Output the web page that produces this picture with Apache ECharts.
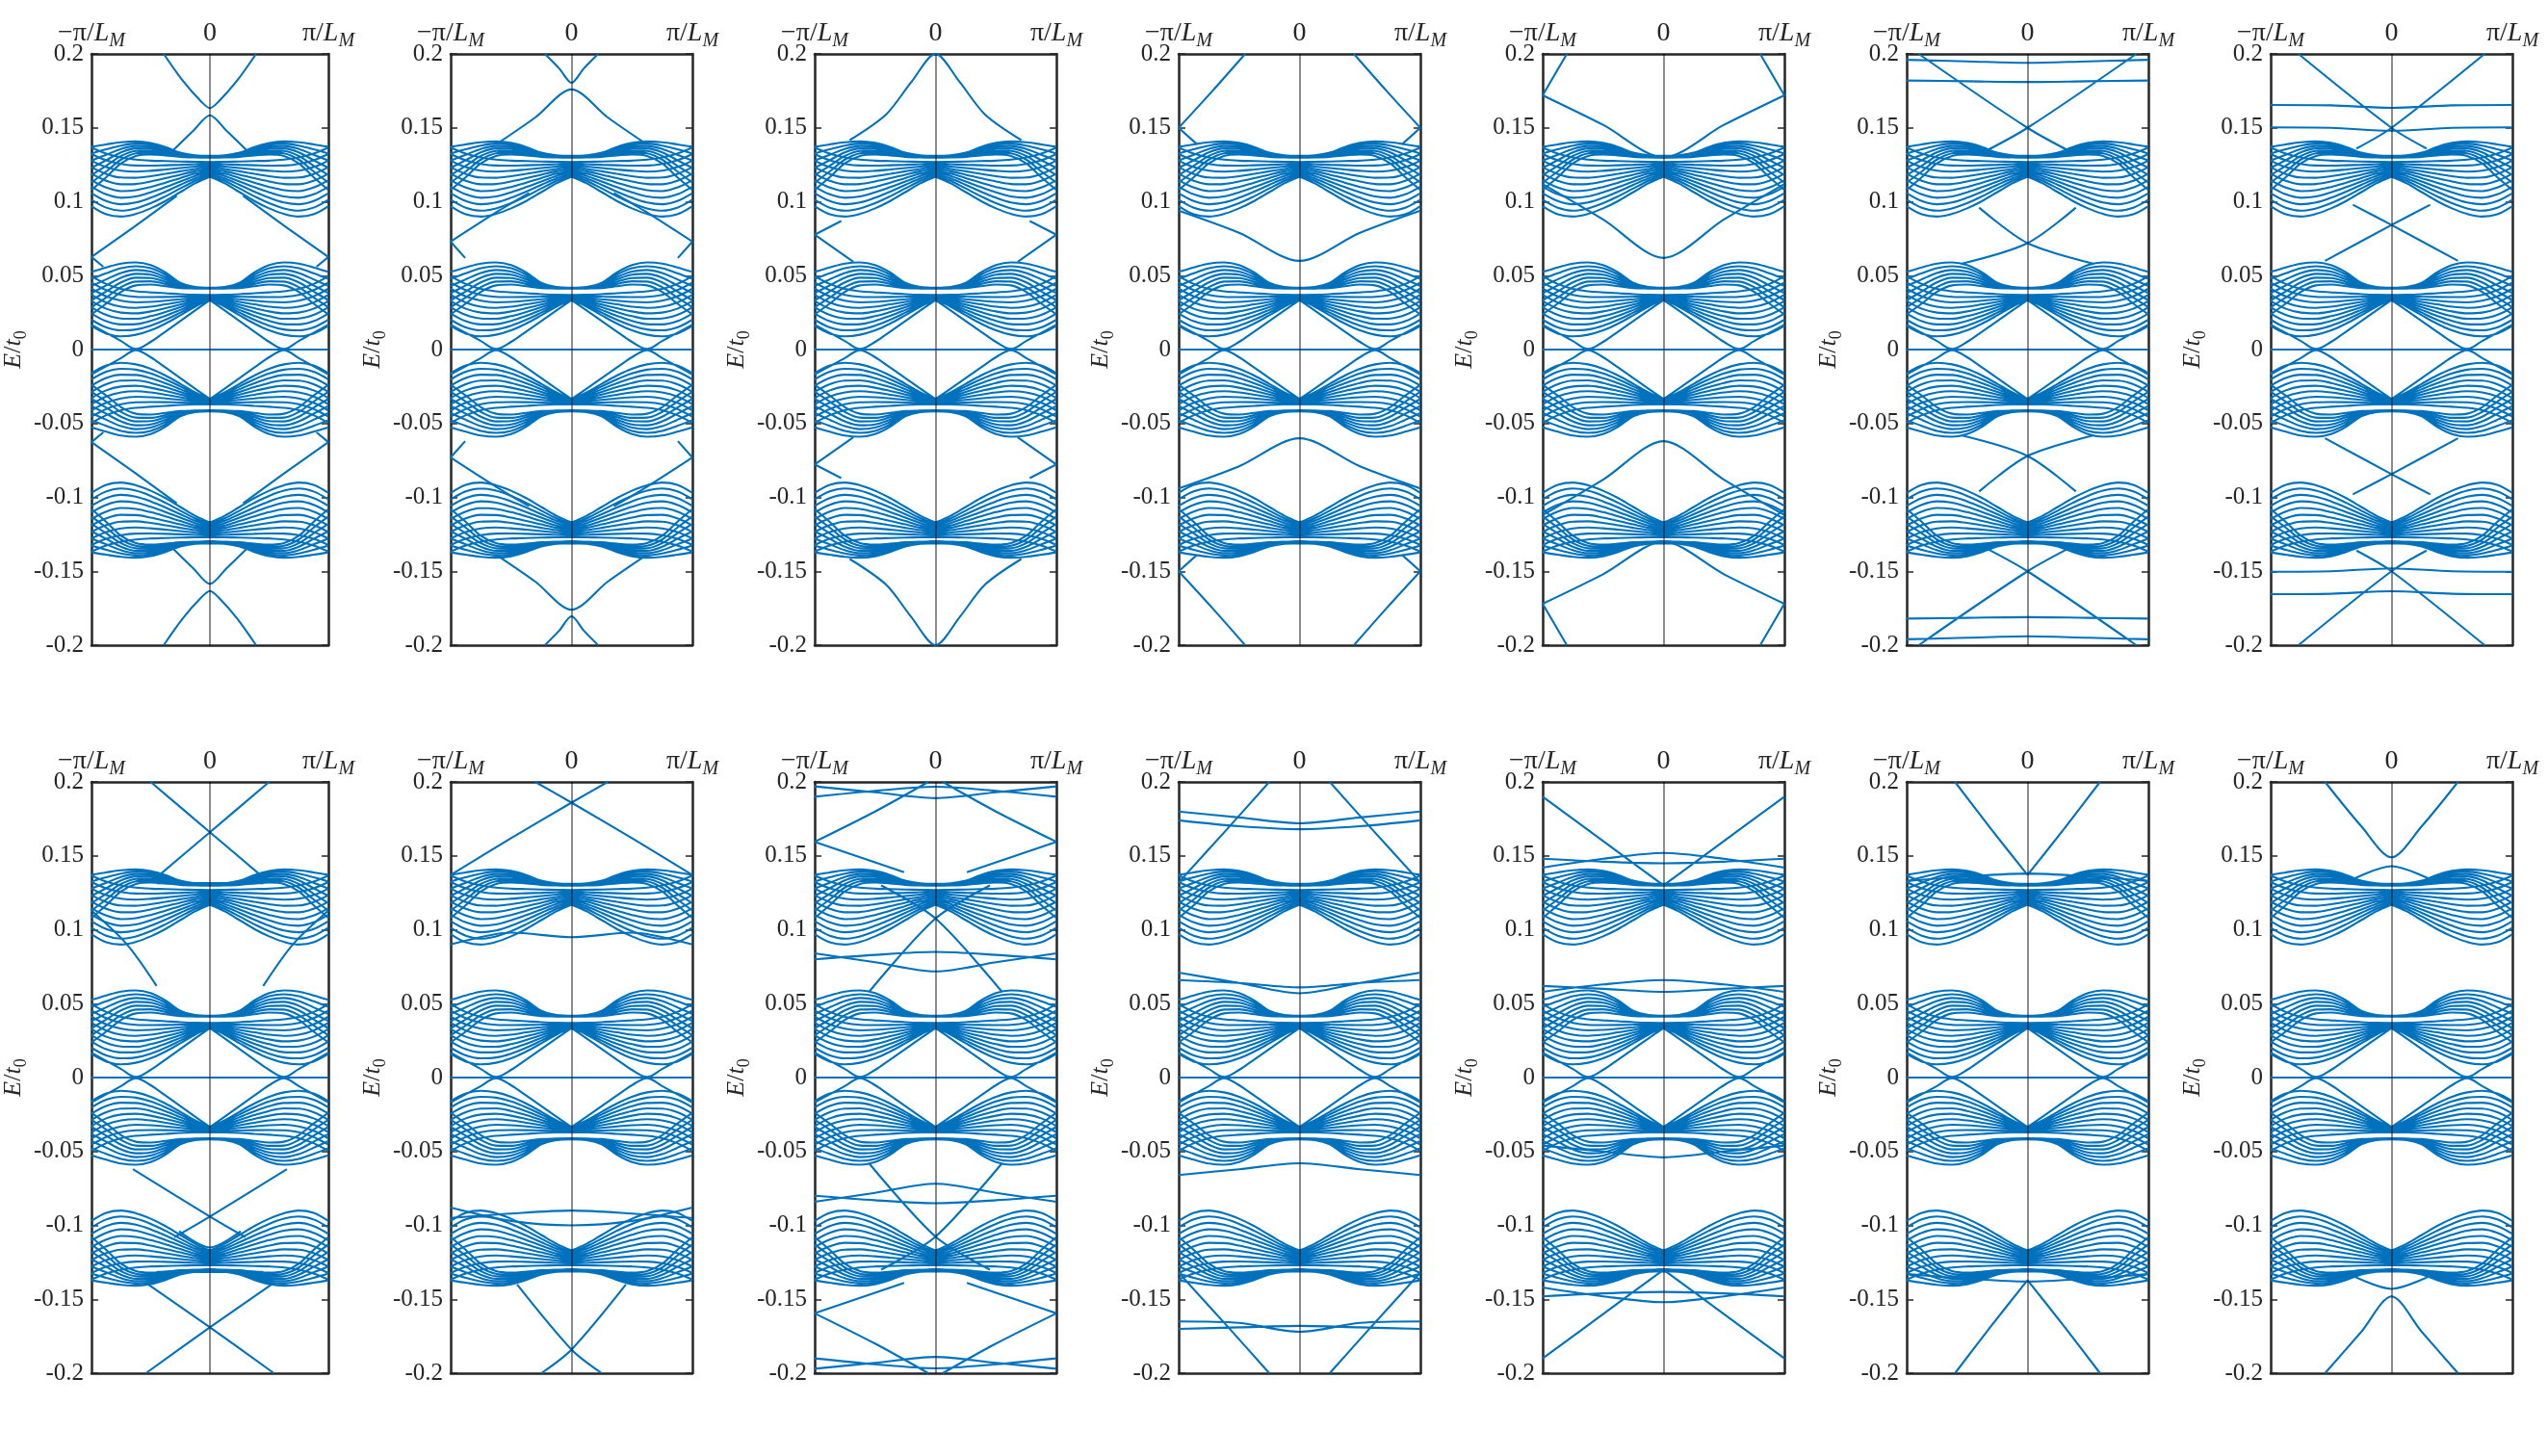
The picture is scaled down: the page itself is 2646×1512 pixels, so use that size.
<!DOCTYPE html>
<html>
<head>
<meta charset="utf-8">
<script src="https://cdn.jsdelivr.net/npm/echarts@6/dist/echarts.min.js"></script>
<style>
  html, body { margin: 0; padding: 0; background: #fff; }
  #main { width: 2646px; height: 1512px; }
</style>
</head>
<body>
<div id="main"></div>
<script>
// k in units of pi/L_M, half zone (each band is drawn on both halves)
const kHalf = [0, 0.125, 0.25, 0.375, 0.5, 0.625, 0.75, 0.875, 1];

// outer bulk cluster (E ~ 0.12): bands bending up out of the k=0 bundle
const outerUp = [
  [0.1310, 0.1314, 0.1332, 0.1370, 0.1398, 0.1408, 0.1402, 0.1388, 0.1372],
  [0.1308, 0.1311, 0.1326, 0.1360, 0.1386, 0.1393, 0.1380, 0.1355, 0.1326],
  [0.1306, 0.1309, 0.1321, 0.1350, 0.1373, 0.1377, 0.1357, 0.1318, 0.1278],
  [0.1304, 0.1307, 0.1316, 0.1340, 0.1360, 0.1361, 0.1334, 0.1281, 0.1230],
  [0.1302, 0.1304, 0.1312, 0.1331, 0.1346, 0.1344, 0.1310, 0.1243, 0.1180],
  [0.1300, 0.1302, 0.1308, 0.1322, 0.1333, 0.1327, 0.1285, 0.1205, 0.1130],
  [0.1298, 0.1300, 0.1304, 0.1313, 0.1320, 0.1310, 0.1260, 0.1166, 0.1080]
];
// outer cluster: bands fanning down out of the k=0 bundle
const outerDown = [
  [0.1170, 0.1125, 0.1065, 0.1005, 0.0955, 0.0918, 0.0900, 0.0915, 0.0970],
  [0.1181, 0.1142, 0.1090, 0.1037, 0.0990, 0.0955, 0.0940, 0.0960, 0.1014],
  [0.1192, 0.1158, 0.1114, 0.1068, 0.1027, 0.0995, 0.0983, 0.1005, 0.1058],
  [0.1203, 0.1174, 0.1137, 0.1099, 0.1064, 0.1036, 0.1027, 0.1050, 0.1102],
  [0.1214, 0.1190, 0.1160, 0.1129, 0.1100, 0.1078, 0.1072, 0.1096, 0.1146],
  [0.1225, 0.1206, 0.1183, 0.1159, 0.1137, 0.1120, 0.1118, 0.1142, 0.1190],
  [0.1236, 0.1222, 0.1206, 0.1189, 0.1173, 0.1162, 0.1164, 0.1188, 0.1234],
  [0.1247, 0.1238, 0.1228, 0.1218, 0.1209, 0.1204, 0.1210, 0.1234, 0.1278],
  [0.1258, 0.1254, 0.1250, 0.1247, 0.1244, 0.1245, 0.1256, 0.1280, 0.1322],
  [0.1269, 0.1270, 0.1272, 0.1275, 0.1278, 0.1285, 0.1300, 0.1325, 0.1366]
];
// inner bulk cluster (E ~ 0.04)
const innerUp = [
  [0.0418, 0.0423, 0.0452, 0.0522, 0.0572, 0.0590, 0.0582, 0.0556, 0.0526],
  [0.0417, 0.0421, 0.0445, 0.0506, 0.0550, 0.0564, 0.0550, 0.0516, 0.0478],
  [0.0416, 0.0419, 0.0439, 0.0490, 0.0528, 0.0538, 0.0518, 0.0475, 0.0430],
  [0.0415, 0.0417, 0.0433, 0.0474, 0.0506, 0.0512, 0.0486, 0.0434, 0.0382],
  [0.0414, 0.0416, 0.0427, 0.0458, 0.0484, 0.0486, 0.0454, 0.0393, 0.0334],
  [0.0413, 0.0414, 0.0421, 0.0443, 0.0462, 0.0460, 0.0422, 0.0352, 0.0286],
  [0.0412, 0.0413, 0.0416, 0.0428, 0.0440, 0.0434, 0.0390, 0.0311, 0.0238]
];
const innerDown = [
  [0.0335, 0.0264, 0.0193, 0.0122, 0.0052, 0.0004, 0.0058, 0.0113, 0.0168],
  [0.0338, 0.0290, 0.0232, 0.0176, 0.0130, 0.0100, 0.0090, 0.0108, 0.0160],
  [0.0342, 0.0300, 0.0250, 0.0202, 0.0162, 0.0136, 0.0130, 0.0150, 0.0202],
  [0.0346, 0.0310, 0.0268, 0.0228, 0.0194, 0.0172, 0.0170, 0.0192, 0.0244],
  [0.0350, 0.0320, 0.0286, 0.0254, 0.0226, 0.0208, 0.0210, 0.0234, 0.0286],
  [0.0354, 0.0330, 0.0304, 0.0280, 0.0258, 0.0245, 0.0250, 0.0276, 0.0328],
  [0.0358, 0.0340, 0.0322, 0.0306, 0.0290, 0.0282, 0.0290, 0.0318, 0.0370],
  [0.0362, 0.0350, 0.0340, 0.0331, 0.0322, 0.0319, 0.0330, 0.0360, 0.0412],
  [0.0366, 0.0361, 0.0358, 0.0356, 0.0355, 0.0357, 0.0370, 0.0402, 0.0454],
  [0.0370, 0.0371, 0.0375, 0.0381, 0.0387, 0.0394, 0.0410, 0.0444, 0.0496]
];
// zero-energy flat band
const flatBand = [[-1, 0], [1, 0]];

// in-gap / edge states per panel, [k, E] polylines
const edgeStates = [
  [ // panel 1
    [[-0.39, 0.2], [-0.23, 0.182], [-0.07, 0.1675], [0, 0.1634], [0.07, 0.1675], [0.23, 0.182], [0.39, 0.2]],
    [[-0.32, 0.134], [-0.14, 0.148], [0, 0.1585], [0.14, 0.148], [0.32, 0.134]],
    [[-1, 0.0626], [-0.64, 0.083], [-0.28, 0.104]],
    [[1, 0.0626], [0.64, 0.083], [0.28, 0.104]],
    [[-1, 0.0626], [-0.9, 0.056]],
    [[1, 0.0626], [0.9, 0.056]],
    [[-0.39, -0.2], [-0.23, -0.182], [-0.07, -0.1675], [0, -0.1634], [0.07, -0.1675], [0.23, -0.182], [0.39, -0.2]],
    [[-0.32, -0.134], [-0.14, -0.148], [0, -0.1585], [0.14, -0.148], [0.32, -0.134]],
    [[-1, -0.0626], [-0.64, -0.083], [-0.28, -0.104]],
    [[1, -0.0626], [0.64, -0.083], [0.28, -0.104]],
    [[-1, -0.0626], [-0.9, -0.056]],
    [[1, -0.0626], [0.9, -0.056]]
  ],
  [ // panel 2
    [[-0.22, 0.2], [-0.1, 0.19], [0, 0.1805], [0.1, 0.19], [0.22, 0.2]],
    [[-0.62, 0.139], [-0.3, 0.157], [0, 0.176], [0.3, 0.157], [0.62, 0.139]],
    [[-1, 0.073], [-0.6, 0.094], [-0.35, 0.106]],
    [[1, 0.073], [0.6, 0.094], [0.35, 0.106]],
    [[-1, 0.073], [-0.88, 0.062]],
    [[1, 0.073], [0.88, 0.062]],
    [[-0.22, -0.2], [-0.1, -0.19], [0, -0.1805], [0.1, -0.19], [0.22, -0.2]],
    [[-0.62, -0.139], [-0.3, -0.157], [0, -0.176], [0.3, -0.157], [0.62, -0.139]],
    [[-1, -0.073], [-0.6, -0.094], [-0.35, -0.106]],
    [[1, -0.073], [0.6, -0.094], [0.35, -0.106]],
    [[-1, -0.073], [-0.88, -0.062]],
    [[1, -0.073], [0.88, -0.062]]
  ],
  [ // panel 3
    [[-0.71, 0.1417], [-0.41, 0.159], [-0.2, 0.181], [0, 0.2], [0.2, 0.181], [0.41, 0.159], [0.71, 0.1417]],
    [[-1, 0.0777], [-0.78, 0.087]],
    [[-1, 0.0777], [-0.68, 0.0593]],
    [[1, 0.0777], [0.78, 0.087]],
    [[1, 0.0777], [0.68, 0.0593]],
    [[-0.71, -0.1417], [-0.41, -0.159], [-0.2, -0.181], [0, -0.2], [0.2, -0.181], [0.41, -0.159], [0.71, -0.1417]],
    [[-1, -0.0777], [-0.78, -0.087]],
    [[-1, -0.0777], [-0.68, -0.0593]],
    [[1, -0.0777], [0.78, -0.087]],
    [[1, -0.0777], [0.68, -0.0593]]
  ],
  [ // panel 4
    [[-1, 0.150], [-0.72, 0.175], [-0.45, 0.2]],
    [[1, 0.150], [0.72, 0.175], [0.45, 0.2]],
    [[-1, 0.150], [-0.85, 0.139]],
    [[1, 0.150], [0.85, 0.139]],
    [[-1, 0.094], [-0.5, 0.079], [0, 0.060], [0.5, 0.079], [1, 0.094]],
    [[-1, -0.150], [-0.72, -0.175], [-0.45, -0.2]],
    [[1, -0.150], [0.72, -0.175], [0.45, -0.2]],
    [[-1, -0.150], [-0.85, -0.139]],
    [[1, -0.150], [0.85, -0.139]],
    [[-1, -0.094], [-0.5, -0.079], [0, -0.060], [0.5, -0.079], [1, -0.094]]
  ],
  [ // panel 5
    [[-1, 0.172], [-0.5, 0.152], [0, 0.130], [0.5, 0.152], [1, 0.172]],
    [[-1, 0.172], [-0.8, 0.2]],
    [[1, 0.172], [0.8, 0.2]],
    [[-1, 0.112], [-0.5, 0.088], [0, 0.062], [0.5, 0.088], [1, 0.112]],
    [[-1, -0.172], [-0.5, -0.152], [0, -0.130], [0.5, -0.152], [1, -0.172]],
    [[-1, -0.172], [-0.8, -0.2]],
    [[1, -0.172], [0.8, -0.2]],
    [[-1, -0.112], [-0.5, -0.088], [0, -0.062], [0.5, -0.088], [1, -0.112]]
  ],
  [ // panel 6
    [[-1, 0.196], [-0.5, 0.195], [0, 0.194], [0.5, 0.195], [1, 0.196]],
    [[-1, 0.182], [-0.5, 0.1815], [0, 0.181], [0.5, 0.1815], [1, 0.182]],
    [[-0.9, 0.2], [0, 0.150], [0.4, 0.132]],
    [[0.9, 0.2], [0, 0.150], [-0.4, 0.132]],
    [[-0.4, 0.096], [0, 0.072], [0.55, 0.058]],
    [[0.4, 0.096], [0, 0.072], [-0.55, 0.058]],
    [[-1, -0.196], [-0.5, -0.195], [0, -0.194], [0.5, -0.195], [1, -0.196]],
    [[-1, -0.182], [-0.5, -0.1815], [0, -0.181], [0.5, -0.1815], [1, -0.182]],
    [[-0.9, -0.2], [0, -0.150], [0.4, -0.132]],
    [[0.9, -0.2], [0, -0.150], [-0.4, -0.132]],
    [[-0.4, -0.096], [0, -0.072], [0.55, -0.058]],
    [[0.4, -0.096], [0, -0.072], [-0.55, -0.058]]
  ],
  [ // panel 7
    [[-1, 0.1655], [-0.5, 0.1652], [0, 0.1635], [0.5, 0.1652], [1, 0.1655]],
    [[-1, 0.1503], [-0.5, 0.150], [0, 0.148], [0.5, 0.150], [1, 0.1503]],
    [[-0.77, 0.2], [0, 0.150], [0.29, 0.136]],
    [[0.77, 0.2], [0, 0.150], [-0.29, 0.136]],
    [[-0.32, 0.098], [0, 0.0843], [0.55, 0.060]],
    [[0.32, 0.098], [0, 0.0843], [-0.55, 0.060]],
    [[-1, -0.1655], [-0.5, -0.1652], [0, -0.1635], [0.5, -0.1652], [1, -0.1655]],
    [[-1, -0.1503], [-0.5, -0.150], [0, -0.148], [0.5, -0.150], [1, -0.1503]],
    [[-0.77, -0.2], [0, -0.150], [0.29, -0.136]],
    [[0.77, -0.2], [0, -0.150], [-0.29, -0.136]],
    [[-0.32, -0.098], [0, -0.0843], [0.55, -0.060]],
    [[0.32, -0.098], [0, -0.0843], [-0.55, -0.060]]
  ],
  [ // panel 8
    [[-0.5, 0.2], [0, 0.166], [0.5, 0.132]],
    [[0.5, 0.2], [0, 0.166], [-0.5, 0.132]],
    [[-0.45, 0.1315], [0, 0.1315], [0.45, 0.1315]],
    [[-1, 0.113], [-0.7, 0.090], [-0.45, 0.062]],
    [[1, 0.113], [0.7, 0.090], [0.45, 0.062]],
    [[-0.65, -0.062], [0, -0.094], [0.3, -0.108]],
    [[0.65, -0.062], [0, -0.094], [-0.3, -0.108]],
    [[-0.26, -0.104], [0, -0.115], [0.26, -0.104]],
    [[-0.45, -0.1315], [0, -0.1315], [0.45, -0.1315]],
    [[-0.54, -0.2], [0, -0.169], [0.52, -0.14]],
    [[0.54, -0.2], [0, -0.169], [-0.52, -0.14]]
  ],
  [ // panel 9
    [[-1, 0.137], [-0.5, 0.162], [0, 0.186], [0.3, 0.2]],
    [[1, 0.137], [0.5, 0.162], [0, 0.186], [-0.3, 0.2]],
    [[-1, 0.090], [-0.5, 0.098], [0, 0.095], [0.5, 0.098], [1, 0.090]],
    [[-1, -0.088], [-0.5, -0.097], [0, -0.100], [0.5, -0.097], [1, -0.088]],
    [[-1, -0.095], [-0.5, -0.092], [0, -0.090], [0.5, -0.092], [1, -0.095]],
    [[-0.25, -0.2], [0, -0.184], [0.45, -0.14]],
    [[0.25, -0.2], [0, -0.184], [-0.45, -0.14]]
  ],
  [ // panel 10
    [[-1, 0.190], [-0.5, 0.194], [0, 0.1967], [0.5, 0.194], [1, 0.190]],
    [[-1, 0.197], [-0.5, 0.193], [0, 0.189], [0.5, 0.193], [1, 0.197]],
    [[-0.06, 0.2], [-0.5, 0.18], [-1, 0.1595]],
    [[0.06, 0.2], [0.5, 0.18], [1, 0.1595]],
    [[-1, 0.1595], [-0.26, 0.139]],
    [[1, 0.1595], [0.26, 0.139]],
    [[-1, 0.084], [-0.5, 0.078], [0, 0.0718], [0.5, 0.078], [1, 0.084]],
    [[-1, 0.080], [-0.5, 0.083], [0, 0.085], [0.5, 0.083], [1, 0.080]],
    [[-0.45, 0.130], [0, 0.1076], [0.55, 0.058]],
    [[0.45, 0.130], [0, 0.1076], [-0.55, 0.058]],
    [[-1, -0.190], [-0.5, -0.194], [0, -0.1967], [0.5, -0.194], [1, -0.190]],
    [[-1, -0.197], [-0.5, -0.193], [0, -0.189], [0.5, -0.193], [1, -0.197]],
    [[-0.06, -0.2], [-0.5, -0.18], [-1, -0.1595]],
    [[0.06, -0.2], [0.5, -0.18], [1, -0.1595]],
    [[-1, -0.1595], [-0.26, -0.139]],
    [[1, -0.1595], [0.26, -0.139]],
    [[-1, -0.084], [-0.5, -0.078], [0, -0.0718], [0.5, -0.078], [1, -0.084]],
    [[-1, -0.080], [-0.5, -0.083], [0, -0.085], [0.5, -0.083], [1, -0.080]],
    [[-0.45, -0.130], [0, -0.1076], [0.55, -0.058]],
    [[0.45, -0.130], [0, -0.1076], [-0.55, -0.058]]
  ],
  [ // panel 11
    [[-1, 0.180], [-0.5, 0.176], [0, 0.172], [0.5, 0.176], [1, 0.180]],
    [[-1, 0.174], [-0.5, 0.170], [0, 0.168], [0.5, 0.170], [1, 0.174]],
    [[-0.25, 0.2], [-0.6, 0.168], [-1, 0.132]],
    [[0.25, 0.2], [0.6, 0.168], [1, 0.132]],
    [[-1, 0.071], [-0.5, 0.064], [0, 0.057], [0.5, 0.064], [1, 0.071]],
    [[-1, 0.066], [-0.5, 0.064], [0, 0.061], [0.5, 0.064], [1, 0.066]],
    [[-1, -0.066], [-0.5, -0.062], [0, -0.058], [0.5, -0.062], [1, -0.066]],
    [[-1, -0.170], [-0.5, -0.169], [0, -0.168], [0.5, -0.169], [1, -0.170]],
    [[-1, -0.165], [-0.5, -0.166], [0, -0.172], [0.5, -0.166], [1, -0.165]],
    [[-0.25, -0.2], [-0.6, -0.168], [-1, -0.132]],
    [[0.25, -0.2], [0.6, -0.168], [1, -0.132]]
  ],
  [ // panel 12
    [[-1, 0.190], [-0.5, 0.160], [0, 0.130]],
    [[1, 0.190], [0.5, 0.160], [0, 0.130]],
    [[-1, 0.142], [-0.5, 0.148], [0, 0.152], [0.5, 0.148], [1, 0.142]],
    [[-1, 0.148], [-0.5, 0.146], [0, 0.145], [0.5, 0.146], [1, 0.148]],
    [[-1, 0.058], [-0.5, 0.063], [0, 0.066], [0.5, 0.063], [1, 0.058]],
    [[-1, 0.062], [-0.5, 0.060], [0, 0.058], [0.5, 0.060], [1, 0.062]],
    [[-1, -0.046], [-0.5, -0.050], [0, -0.054], [0.5, -0.050], [1, -0.046]],
    [[-1, -0.142], [-0.5, -0.148], [0, -0.152], [0.5, -0.148], [1, -0.142]],
    [[-1, -0.148], [-0.5, -0.146], [0, -0.145], [0.5, -0.146], [1, -0.148]],
    [[-1, -0.190], [-0.5, -0.160], [0, -0.130]],
    [[1, -0.190], [0.5, -0.160], [0, -0.130]]
  ],
  [ // panel 13
    [[-0.6, 0.2], [-0.3, 0.168], [0, 0.137]],
    [[0.6, 0.2], [0.3, 0.168], [0, 0.137]],
    [[-1, 0.133], [-0.5, 0.136], [0, 0.138], [0.5, 0.136], [1, 0.133]],
    [[-0.6, -0.2], [-0.3, -0.168], [0, -0.137]],
    [[0.6, -0.2], [0.3, -0.168], [0, -0.137]],
    [[-1, -0.133], [-0.5, -0.136], [0, -0.138], [0.5, -0.136], [1, -0.133]]
  ],
  [ // panel 14
    [[-0.55, 0.2], [-0.25, 0.17], [0, 0.149], [0.25, 0.17], [0.55, 0.2]],
    [[-0.35, 0.133], [0, 0.143], [0.35, 0.133]],
    [[-0.55, -0.2], [-0.25, -0.172], [0, -0.148], [0.25, -0.172], [0.55, -0.2]],
    [[-0.35, -0.133], [0, -0.143], [0.35, -0.133]]
  ]
];

const yTickLabels = ['-0.2', '-0.15', '-0.1', '-0.05', '0', '0.05', '0.1', '0.15', '0.2'];
const kTickLabels = ['{n|\u2212\u03c0/}{i|L}{s|M}', '{n|0}', '{n|\u03c0/}{i|L}{s|M}'];

const colLeft = [90, 468, 846, 1224, 1602, 1980, 2358];
const rowTop = [56, 812];
const plotW = 251, plotH = 614;

const blue = '#0072BD';
const frame = '#262626';
const serif = 'Liberation Serif';

const kRich = {
  n: { fontFamily: serif, fontSize: 28, color: frame, lineHeight: 36, verticalAlign: 'middle' },
  i: { fontFamily: serif, fontSize: 28, fontStyle: 'italic', color: frame, lineHeight: 36, verticalAlign: 'middle' },
  s: { fontFamily: serif, fontSize: 20, fontStyle: 'italic', color: frame, lineHeight: 20, verticalAlign: 'bottom' }
};
const nameRich = {
  n: { fontFamily: serif, fontSize: 26, color: frame, lineHeight: 34, verticalAlign: 'middle' },
  i: { fontFamily: serif, fontSize: 26, fontStyle: 'italic', color: frame, lineHeight: 34, verticalAlign: 'middle' },
  d: { fontFamily: serif, fontSize: 18, color: frame, lineHeight: 18, verticalAlign: 'bottom' }
};

// both halves of every bulk band, split at k=0 so the bundle keeps its sharp waist
function bulkData(sign) {
  const pts = [];
  [].concat(outerUp, outerDown, innerUp, innerDown).forEach(h => {
    for (let i = 0; i < kHalf.length; i++) pts.push([kHalf[i], sign * h[i]]);
    pts.push([null, null]);
    for (let i = 0; i < kHalf.length; i++) pts.push([-kHalf[i], sign * h[i]]);
    pts.push([null, null]);
  });
  return pts;
}

function joinCurves(curves) {
  const pts = [];
  curves.forEach(c => { c.forEach(p => pts.push(p)); pts.push([null, null]); });
  return pts;
}

const upperBulk = bulkData(1);
const lowerBulk = bulkData(-1);

const grid = [], xAxis = [], yAxis = [], series = [];

for (let p = 0; p < 14; p++) {
  const row = p < 7 ? 0 : 1;
  const col = p % 7;
  grid.push({ left: colLeft[col], top: rowTop[row], width: plotW, height: plotH });

  xAxis.push({
    gridIndex: p, type: 'value', min: -1, max: 1, interval: 1, position: 'top',
    axisLine: { show: true, onZero: false, lineStyle: { color: frame, width: 2.5 } },
    axisTick: { show: false },
    splitLine: { show: false },
    axisLabel: {
      margin: 3, showMinLabel: true, showMaxLabel: true, hideOverlap: false,
      formatter: v => kTickLabels[Math.round(v) + 1],
      rich: kRich
    }
  });
  xAxis.push({
    gridIndex: p, type: 'value', min: -1, max: 1, interval: 1, position: 'bottom',
    axisLine: { show: true, onZero: false, lineStyle: { color: frame, width: 2.5 } },
    axisTick: { show: false }, axisLabel: { show: false }, splitLine: { show: false }
  });
  yAxis.push({
    gridIndex: p, type: 'value', min: -0.2, max: 0.2, interval: 0.05, position: 'left',
    axisLine: { show: true, onZero: false, lineStyle: { color: frame, width: 2.5 } },
    axisTick: { show: true, inside: true, length: 7, lineStyle: { color: frame, width: 1.5 } },
    splitLine: { show: false },
    axisLabel: {
      margin: 8, fontFamily: serif, fontSize: 25, color: frame,
      showMinLabel: true, showMaxLabel: true,
      formatter: v => yTickLabels[Math.round((v + 0.2) / 0.05)]
    },
    name: '{i|E}{n|/}{i|t}{d|0}',
    nameLocation: 'middle', nameRotate: 90, nameGap: 62,
    nameTextStyle: { rich: nameRich }
  });
  yAxis.push({
    gridIndex: p, type: 'value', min: -0.2, max: 0.2, interval: 0.05, position: 'right',
    axisLine: { show: true, onZero: false, lineStyle: { color: frame, width: 2.5 } },
    axisTick: { show: true, inside: true, length: 7, lineStyle: { color: frame, width: 1.5 } },
    axisLabel: { show: false }, splitLine: { show: false }
  });

  const base = {
    type: 'line', xAxisIndex: 2 * p, yAxisIndex: 2 * p, showSymbol: false, symbol: 'none',
    silent: true, clip: true, connectNulls: false,
    lineStyle: { color: blue, width: 2.1 }
  };

  series.push(Object.assign({}, base, { smooth: 0.35, data: upperBulk }));
  series.push(Object.assign({}, base, { smooth: 0.35, data: lowerBulk }));
  series.push(Object.assign({}, base, { data: flatBand }));
  series.push(Object.assign({}, base, { smooth: 0.3, data: joinCurves(edgeStates[p]) }));
  // k = 0 guide line
  series.push({
    type: 'line', xAxisIndex: 2 * p, yAxisIndex: 2 * p, data: [], silent: true, z: 5,
    markLine: {
      silent: true, symbol: 'none', label: { show: false }, animation: false,
      lineStyle: { color: 'rgba(0,0,0,0.45)', width: 2, type: 'solid' },
      data: [{ xAxis: 0 }]
    }
  });
}

const chart = echarts.init(document.getElementById('main'), null, { renderer: 'canvas' });
chart.setOption({
  animation: false,
  backgroundColor: '#ffffff',
  grid: grid,
  xAxis: xAxis,
  yAxis: yAxis,
  series: series
});
</script>
</body>
</html>
